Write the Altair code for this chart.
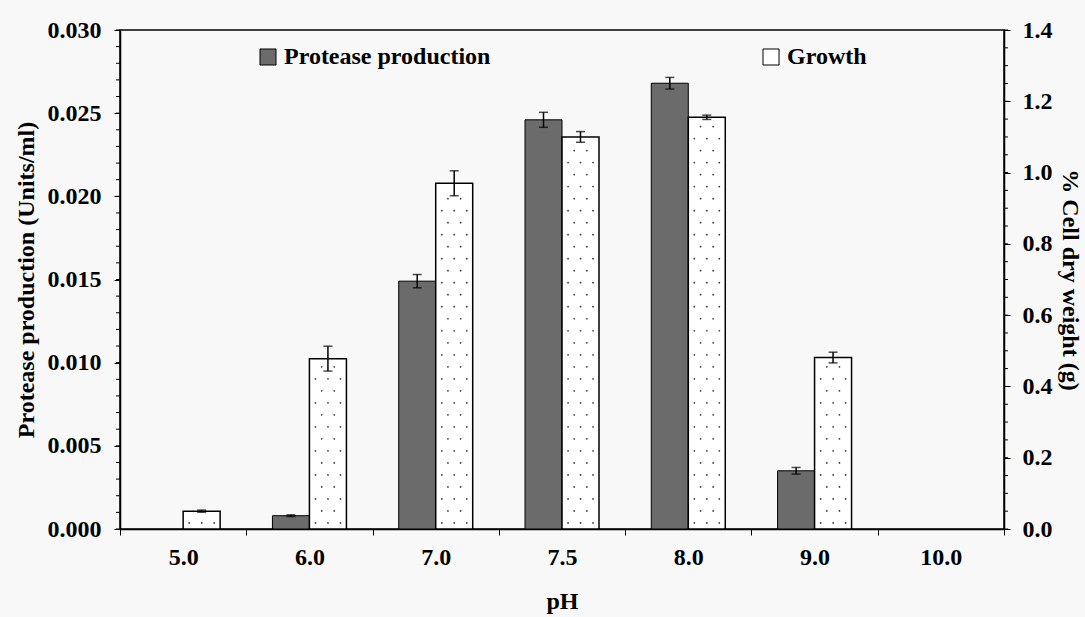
import altair as alt
import pandas as pd

# ---------------- data ----------------
ph = ["5.0", "6.0", "7.0", "7.5", "8.0", "9.0", "10.0"]
protease = [0.0, 0.0008, 0.0149, 0.0246, 0.0268, 0.0035, 0.0]
protease_err = [0.0, 0.00005, 0.0004, 0.00045, 0.00035, 0.0002, 0.0]
growth = [0.050, 0.478, 0.970, 1.100, 1.155, 0.481, 0.0]
growth_err = [0.003, 0.035, 0.035, 0.015, 0.006, 0.015, 0.0]

series_names = ["Protease production", "Growth"]
left_ticks = [0.0, 0.005, 0.010, 0.015, 0.020, 0.025, 0.030]
right_ticks = [0.0, 0.2, 0.4, 0.6, 0.8, 1.0, 1.2, 1.4]
left_minor = [round(i * 0.001, 3) for i in range(31)]
right_minor = [round(i * 0.05, 2) for i in range(29)]

df_p = pd.DataFrame({"pH": ph, "series": series_names[0], "value": protease, "err": protease_err})
df_g = pd.DataFrame({"pH": ph, "series": series_names[1], "value": growth, "err": growth_err})
for d in (df_p, df_g):
    d["lo"] = d["value"] - d["err"]
    d["hi"] = d["value"] + d["err"]
df_p = df_p[df_p["value"] > 0]
df_g = df_g[df_g["value"] > 0]

# stipple texture for the Growth bars (decorative dots inside each bar)
ROW = 0.0337
dot_rows = []
for p, v in zip(ph, growth):
    k = 0
    y = 0.017
    while v > 0 and y < v - 0.012:
        dot_rows.append({"pH": p, "y": y, "row": k % 2})
        k += 1
        y += ROW
dots = pd.DataFrame(dot_rows)
cols_even = [0.548, 0.647, 0.746]
cols_odd = [0.597, 0.697]

FONT = "Liberation Serif"
W, H = 884, 499

x_scale = alt.Scale(domain=ph, paddingInner=0, paddingOuter=0)
x_axis = alt.Axis(title="pH", labelAngle=0, tickBand="extent", tickSize=6,
                  labelPadding=10, titlePadding=20)


def X(**kw):
    # every layer repeats the same axis definition so that they merge into one
    return alt.X("pH:N", sort=ph, scale=x_scale, axis=x_axis, **kw)


OFF = alt.XOffset("series:N", sort=series_names,
                  scale=alt.Scale(domain=series_names, paddingInner=0, paddingOuter=0.707))
FILL = alt.Fill("series:N", sort=series_names,
                scale=alt.Scale(domain=series_names, range=["#6b6b6b", "#ffffff"]),
                legend=alt.Legend(title=None, orient="none", legendX=136, legendY=15,
                                  direction="horizontal", symbolType="square", symbolSize=256,
                                  symbolStrokeColor="black", symbolStrokeWidth=1,
                                  labelFont=FONT, labelFontWeight="bold", labelFontSize=24,
                                  labelColor="black", labelOffset=4, columnPadding=268,
                                  labelLimit=400, padding=0))

yl_scale = alt.Scale(domain=[0, 0.03], nice=False, zero=True)
yr_scale = alt.Scale(domain=[0, 1.4], nice=False, zero=True)

# ---------------- left (protease) ----------------
p_bars = alt.Chart(df_p).mark_bar(stroke="black", strokeWidth=1).encode(
    x=X(), xOffset=OFF, fill=FILL,
    y=alt.Y("value:Q", scale=yl_scale,
            axis=alt.Axis(orient="left", values=left_ticks, format=".3f",
                          title="Protease production (Units/ml)", tickSize=6,
                          labelPadding=13, titlePadding=9)),
)
p_rule = alt.Chart(df_p).mark_rule(color="black", strokeWidth=1.5).encode(
    x=X(), xOffset=OFF, y=alt.Y("lo:Q", scale=yl_scale, axis=None), y2="hi:Q")
p_cap_lo = alt.Chart(df_p).mark_tick(color="black", size=9, thickness=1.5).encode(
    x=X(), xOffset=OFF, y=alt.Y("lo:Q", scale=yl_scale, axis=None))
p_cap_hi = alt.Chart(df_p).mark_tick(color="black", size=9, thickness=1.5).encode(
    x=X(), xOffset=OFF, y=alt.Y("hi:Q", scale=yl_scale, axis=None))
l_minor = alt.Chart(pd.DataFrame({"t": left_minor})).mark_rule(color="black", strokeWidth=1).encode(
    y=alt.Y("t:Q", scale=yl_scale, axis=None), x=alt.value(-4), x2=alt.value(0))

# ---------------- right (growth) ----------------
g_bars = alt.Chart(df_g).mark_bar(stroke="black", strokeWidth=1.5).encode(
    x=X(), xOffset=OFF, fill=FILL,
    y=alt.Y("value:Q", scale=yr_scale,
            axis=alt.Axis(orient="right", values=right_ticks, format=".1f",
                          title="% Cell dry weight (g)", tickSize=6,
                          labelPadding=12, titlePadding=5)),
)
dot_layers = []
for parity, cols in ((0, cols_even), (1, cols_odd)):
    for c in cols:
        dot_layers.append(
            alt.Chart(dots).transform_filter(alt.datum.row == parity)
            .mark_circle(size=3, color="#333333", opacity=1)
            .encode(x=X(bandPosition=c),
                    y=alt.Y("y:Q", scale=yr_scale, axis=None))
        )
g_rule = alt.Chart(df_g).mark_rule(color="black", strokeWidth=1.5).encode(
    x=X(), xOffset=OFF, y=alt.Y("lo:Q", scale=yr_scale, axis=None), y2="hi:Q")
g_cap_lo = alt.Chart(df_g).mark_tick(color="black", size=9, thickness=1.5).encode(
    x=X(), xOffset=OFF, y=alt.Y("lo:Q", scale=yr_scale, axis=None))
g_cap_hi = alt.Chart(df_g).mark_tick(color="black", size=9, thickness=1.5).encode(
    x=X(), xOffset=OFF, y=alt.Y("hi:Q", scale=yr_scale, axis=None))
r_minor = alt.Chart(pd.DataFrame({"t": right_minor})).mark_rule(color="black", strokeWidth=1).encode(
    y=alt.Y("t:Q", scale=yr_scale, axis=None), x=alt.value(W), x2=alt.value(W + 4))

# flat layer; every layer has its own y scale, but each repeats the same fixed domain
chart = (
    alt.layer(p_bars, g_bars, *dot_layers, p_rule, p_cap_lo, p_cap_hi,
              g_rule, g_cap_lo, g_cap_hi, l_minor, r_minor)
    .resolve_scale(y="independent")
    .properties(width=W, height=H,
                autosize=alt.AutoSizeParams(type="none"),
                padding={"left": 120, "top": 30, "right": 81, "bottom": 88},
                background="#f8f8f8")
    .configure_axis(labelFont=FONT, labelFontWeight="bold", labelFontSize=24, labelColor="black",
                    titleFont=FONT, titleFontWeight="bold", titleFontSize=24, titleColor="black",
                    domainColor="black", domainWidth=1.5, tickColor="black", tickWidth=1,
                    grid=False)
    .configure_view(stroke="black", strokeWidth=1.5)
)

chart.save("out.html", embed_options={"renderer": "svg", "actions": False})
